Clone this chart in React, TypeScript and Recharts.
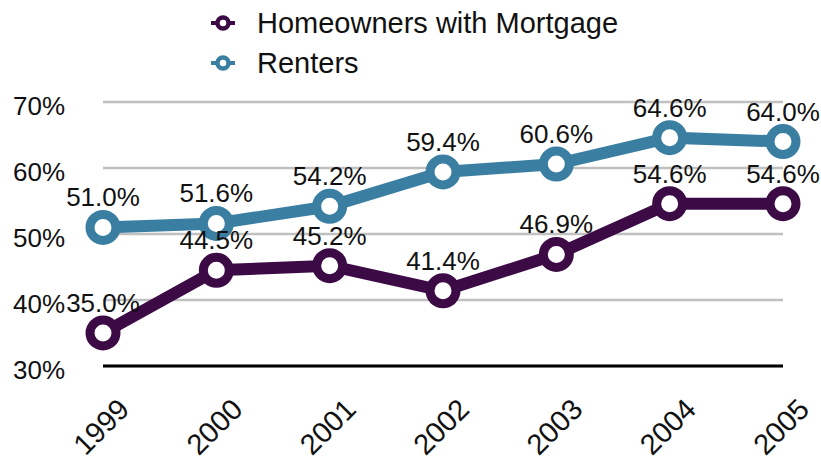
import { LineChart, Line, XAxis, YAxis, CartesianGrid, Legend, LabelList } from "recharts";

const years = ["1999", "2000", "2001", "2002", "2003", "2004", "2005"];
const homeowners = [35.0, 44.5, 45.2, 41.4, 46.9, 54.6, 54.6];
const renters = [51.0, 51.6, 54.2, 59.4, 60.6, 64.6, 64.0];
const yTicks = [30, 40, 50, 60, 70];

const PURPLE = "#3c0b45";
const TEAL = "#3a7fa2";
const FONT = "'Liberation Sans', Arial, Helvetica, sans-serif";

const series = [
  { key: "homeowners", name: "Homeowners with Mortgage", color: PURPLE },
  { key: "renters", name: "Renters", color: TEAL },
];

const data = years.map((year, i) => ({
  year,
  homeowners: homeowners[i],
  renters: renters[i],
}));

const YTick = ({ y, payload }: any) => (
  <text x={13} y={y} dy={12.5} fontSize={26} fontFamily={FONT} fill="#111" textAnchor="start">
    {payload.value}%
  </text>
);

const XTick = ({ x, y, payload }: any) => (
  <g transform={`translate(${x + 28},${y + 45})`}>
    <text transform="rotate(-45)" textAnchor="end" fontSize={29} fontFamily={FONT} fill="#111">
      {payload.value}
    </text>
  </g>
);

const LegendBox = () => (
  <div style={{ fontFamily: FONT }}>
    {series.map((s) => (
      <div key={s.key} style={{ display: "flex", alignItems: "center", height: 40 }}>
        <svg width={24} height={20} style={{ marginRight: 22 }}>
          <line x1={0} y1={10} x2={24} y2={10} stroke={s.color} strokeWidth={4} />
          <circle cx={12} cy={10} r={5.5} fill="#fff" stroke={s.color} strokeWidth={4.5} />
        </svg>
        <span style={{ fontSize: 29, color: "#111" }}>{s.name}</span>
      </div>
    ))}
  </div>
);

export default function App() {
  return (
    <div style={{ position: "absolute", left: 0, top: 0, width: 821, height: 460, background: "#fff" }}>
      <LineChart width={821} height={460} data={data} margin={{ top: 102, right: 38, bottom: 0, left: 0 }}>
        <CartesianGrid vertical={false} stroke="#c0c0c0" strokeWidth={2.5} />
        <XAxis
          dataKey="year"
          interval={0}
          height={94}
          tickSize={0}
          tickMargin={0}
          tickLine={false}
          axisLine={{ stroke: "#000", strokeWidth: 3 }}
          tick={<XTick />}
        />
        <YAxis
          domain={[30, 70]}
          ticks={yTicks}
          width={103}
          axisLine={false}
          tickLine={false}
          tick={<YTick />}
        />
        <Legend
          layout="vertical"
          align="center"
          verticalAlign="middle"
          wrapperStyle={{ top: 3, left: 211, width: "auto" }}
          content={<LegendBox />}
        />
        {[...series].reverse().map((s) => (
          <Line
            key={s.key}
            type="linear"
            dataKey={s.key}
            name={s.name}
            stroke={s.color}
            strokeWidth={12}
            dot={{ r: 13, fill: "#fff", stroke: s.color, strokeWidth: 9 }}
            activeDot={false}
            isAnimationActive={false}
          >
            <LabelList
              dataKey={s.key}
              position="top"
              offset={21}
              formatter={(v: any) => `${Number(v).toFixed(1)}%`}
              style={{ fill: "#111", fontSize: 26, fontFamily: FONT }}
            />
          </Line>
        ))}
      </LineChart>
    </div>
  );
}
